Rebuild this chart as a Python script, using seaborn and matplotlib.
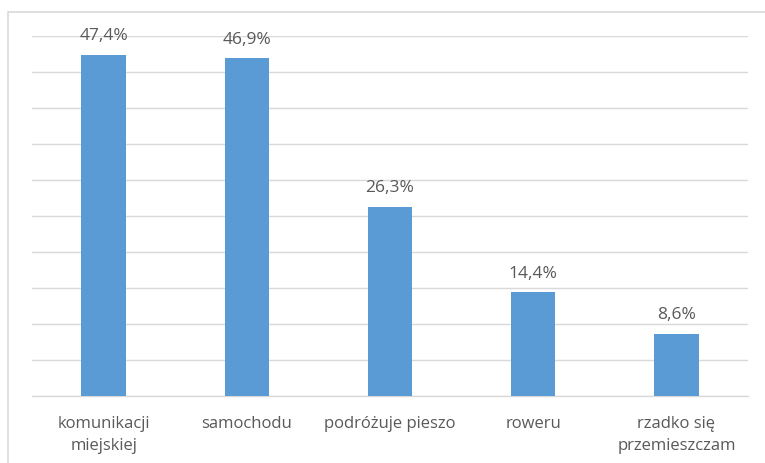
import matplotlib
matplotlib.use("Agg")
import matplotlib.pyplot as plt
import seaborn as sns
import pandas as pd
from matplotlib.patches import Rectangle

categories = ["komunikacji\nmiejskiej", "samochodu", "podróżuje pieszo", "roweru", "rzadko się\nprzemieszczam"]
values = [47.4, 46.9, 26.3, 14.4, 8.6]
value_labels = ["47,4%", "46,9%", "26,3%", "14,4%", "8,6%"]

sns.set_theme(style="white")
plt.rcParams['font.family'] = ['Open Sans', 'DejaVu Sans']

df = pd.DataFrame({"cat": categories, "val": values})

fig = plt.figure(figsize=(7.65, 4.64), dpi=100)
ax = fig.add_axes([32/765, 1 - 397/464, 716/765, 360/464])

sns.barplot(data=df, x="cat", y="val", color="#5B9BD5", saturation=1, width=0.31,
            linewidth=0, ax=ax, zorder=3)

ax.set_ylim(0, 50)
ax.set_yticks(range(0, 51, 5))
ax.yaxis.grid(True, color="#D9D9D9", linewidth=1.0, zorder=0)
ax.set_yticklabels([])
ax.tick_params(axis='y', length=0)
ax.tick_params(axis='x', length=0, pad=14, labelsize=12, labelcolor="#595959")
for lbl in ax.get_xticklabels():
    lbl.set_linespacing(1.5)
ax.set_xlabel("")
ax.set_ylabel("")
for s in ["top", "right", "left"]:
    ax.spines[s].set_visible(False)
ax.spines["bottom"].set_color("#D9D9D9")
ax.spines["bottom"].set_linewidth(1.0)

for patch, lab in zip(ax.patches, value_labels):
    x = patch.get_x() + patch.get_width() / 2
    y = patch.get_height()
    ax.annotate(lab, (x, y), xytext=(0, 8.5), textcoords="offset points",
                ha="center", va="bottom", fontsize=12.5, color="#595959")

fig.patches.append(Rectangle((8/765, -0.1), 1.2, 1 - 13/464 + 0.1, transform=fig.transFigure,
                             fill=False, edgecolor="#D9D9D9", linewidth=1.2))

fig.savefig("out.png", dpi=100)
